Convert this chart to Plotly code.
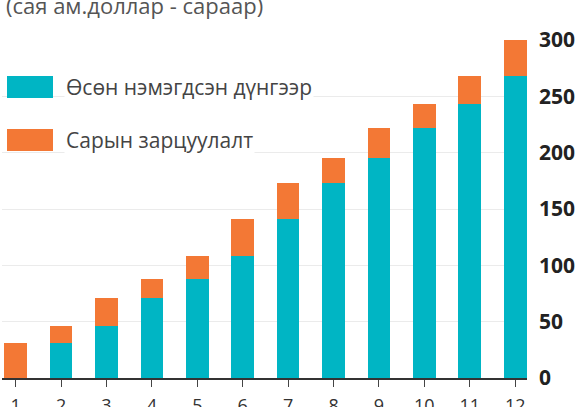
import plotly.graph_objects as go

months = [1, 2, 3, 4, 5, 6, 7, 8, 9, 10, 11, 12]
cumulative = [0, 31, 46, 71, 88, 108, 141, 173, 195, 222, 243, 268]
monthly = [31, 15, 25, 17, 20, 33, 32, 22, 27, 21, 25, 32]
series_names = ["Өсөн нэмэгдсэн дүнгээр", "Сарын зарцуулалт"]
y_ticks = [0, 50, 100, 150, 200, 250, 300]
title_text = "(сая ам.доллар - сараар)"

TEAL = "#00B5C4"
ORANGE = "#F37835"
FONT = "Open Sans"

L, R, T, B = 2, 60, 40, 29
W, H = 587, 407
PW, PH = W - L - R, H - T - B

fig = go.Figure()
fig.add_trace(go.Bar(x=months, y=cumulative, name=series_names[0],
                     marker=dict(color=TEAL, line=dict(width=0)), width=0.5))
fig.add_trace(go.Bar(x=months, y=monthly, name=series_names[1],
                     marker=dict(color=ORANGE, line=dict(width=0)), width=0.5))

fig.update_layout(
    barmode="stack",
    width=W, height=H,
    margin=dict(l=L, r=R, t=T, b=B, autoexpand=False),
    plot_bgcolor="white", paper_bgcolor="white",
    showlegend=False,
    font=dict(family=FONT, color="#333"),
    xaxis=dict(
        automargin=False,
        range=[0.70, 12.26],
        tickmode="array", tickvals=months, ticktext=[str(m) for m in months],
        ticks="outside", ticklen=7, tickcolor="#444", tickwidth=1,
        showline=True, linecolor="#333", linewidth=1.5,
        showgrid=False, zeroline=False,
        ticklabelstandoff=4,
        tickfont=dict(size=18, color="#333", family=FONT),
    ),
    yaxis=dict(
        automargin=False,
        range=[0, 300], side="right",
        tickmode="array", tickvals=y_ticks,
        showgrid=True, gridcolor="#EBEBEB", gridwidth=1,
        zeroline=False, showline=False, ticks="",
        ticklabelstandoff=11,
        tickfont=dict(size=21, color="#222", family=FONT, weight="bold"),
    ),
)

# title
fig.add_annotation(text=title_text, xref="paper", yref="paper", x=0, y=1,
                   xanchor="left", yanchor="middle", xshift=2, yshift=35,
                   showarrow=False, font=dict(size=22, color="#555", family=FONT))

# custom legend
for i, (name, col) in enumerate(zip(series_names, [TEAL, ORANGE])):
    y_top = 76 + i * 53
    fig.add_shape(type="rect", xref="paper", yref="paper",
                  x0=(7 - L) / PW, x1=(53 - L) / PW,
                  y0=1 - (y_top - T) / PH, y1=1 - (y_top + 22 - T) / PH,
                  fillcolor=col, line=dict(width=0), layer="above")
    fig.add_annotation(text=name, xref="paper", yref="paper",
                       x=(64 - L) / PW, y=1 - (y_top + 11 - T) / PH,
                       xanchor="left", yanchor="middle", showarrow=False,
                       bgcolor="white",
                       font=dict(size=21, color="#444", family=FONT))

fig.write_html("out.html", config={"displayModeBar": False},
               post_script="document.body.style.margin='0';document.body.style.overflow='hidden';")
